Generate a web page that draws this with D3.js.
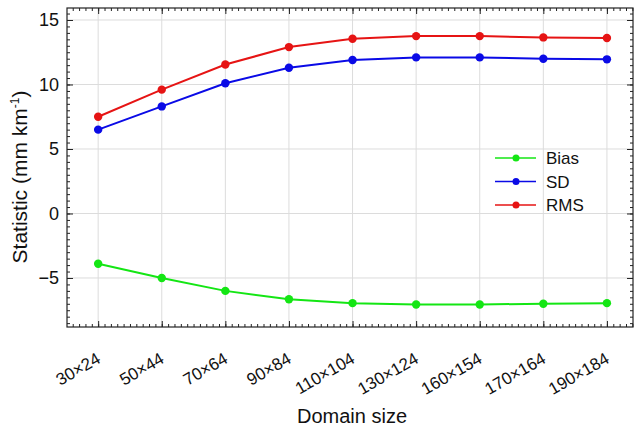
<!DOCTYPE html>
<html>
<head>
<meta charset="utf-8">
<script src="https://cdn.jsdelivr.net/npm/d3@7"></script>
<style>
  body { margin: 0; background: #fff; }
  text { font-family: "Liberation Sans", Arial, sans-serif; fill: #111; }
</style>
</head>
<body>
<svg id="chart" width="637" height="430"></svg>
<script>
var domains = ["30×24", "50×44", "70×64", "90×84", "110×104", "130×124", "160×154", "170×164", "190×184"];
var bias = [-3.9, -5.0, -6.0, -6.65, -6.95, -7.05, -7.05, -7.0, -6.95];
var sd   = [6.5, 8.3, 10.1, 11.3, 11.9, 12.1, 12.1, 12.0, 11.95];
var rms  = [7.5, 9.6, 11.55, 12.9, 13.55, 13.75, 13.75, 13.65, 13.6];
var yTicks = [-5, 0, 5, 10, 15];

var series = [
    { name: "Bias", values: bias, color: "#14e614" },
    { name: "SD", values: sd, color: "#0a0ae6" },
    { name: "RMS", values: rms, color: "#e61414" }
];

var svg = d3.select("#chart"),
    pLeft = 67, pRight = 633, pTop = 8, pBottom = 327;

var x = d3.scaleLinear().domain([0.51, 9.41]).range([pLeft, pRight]);
var y = d3.scaleLinear().domain([-8.8, 15.93]).range([pBottom, pTop]);

var g = svg.append("g");

// grid
g.selectAll(".vgrid")
    .data(domains)
    .enter().append("line")
    .attr("x1", function (d, i) { return x(i + 1); })
    .attr("x2", function (d, i) { return x(i + 1); })
    .attr("y1", pTop).attr("y2", pBottom)
    .attr("stroke", "#dcdcdc").attr("stroke-width", 1);

g.selectAll(".hgrid")
    .data(yTicks)
    .enter().append("line")
    .attr("x1", pLeft).attr("x2", pRight)
    .attr("y1", function (d) { return y(d); })
    .attr("y2", function (d) { return y(d); })
    .attr("stroke", "#dcdcdc").attr("stroke-width", 1);

// minor + major ticks, inward on all four sides
var xMinor = d3.range(6, 95).map(function (k) { return k / 10; });
var yMinor = d3.range(-17, 32).map(function (k) { return k / 2; });

function tickAxis(axisFn, scale, vals, size, pos) {
    var a = axisFn(scale).tickValues(vals).tickSize(size).tickFormat("");
    var ax = g.append("g").attr("transform", pos).call(a);
    ax.select(".domain").remove();
    ax.selectAll("line").attr("stroke", "#222").attr("stroke-width", 1);
    return ax;
}
tickAxis(d3.axisTop, x, xMinor, 3, "translate(0," + pBottom + ")");
tickAxis(d3.axisTop, x, d3.range(1, 10), 6, "translate(0," + pBottom + ")");
tickAxis(d3.axisBottom, x, xMinor, 3, "translate(0," + pTop + ")");
tickAxis(d3.axisBottom, x, d3.range(1, 10), 6, "translate(0," + pTop + ")");
tickAxis(d3.axisRight, y, yMinor, 3, "translate(" + pLeft + ",0)");
tickAxis(d3.axisRight, y, yTicks, 6, "translate(" + pLeft + ",0)");
tickAxis(d3.axisLeft, y, yMinor, 3, "translate(" + pRight + ",0)");
tickAxis(d3.axisLeft, y, yTicks, 6, "translate(" + pRight + ",0)");

// frame
g.append("rect")
    .attr("x", pLeft).attr("y", pTop)
    .attr("width", pRight - pLeft).attr("height", pBottom - pTop)
    .attr("fill", "none").attr("stroke", "#222").attr("stroke-width", 1.2);

// y labels
var yAx = g.append("g")
    .attr("transform", "translate(" + pLeft + ",0)")
    .call(d3.axisLeft(y).tickValues(yTicks).tickSize(0).tickPadding(8));
yAx.select(".domain").remove();
yAx.selectAll("text").attr("font-size", "18px").style("font-family", "Liberation Sans, Arial, sans-serif").attr("fill", "#111");

// x labels, rotated
var xAx = g.append("g")
    .attr("transform", "translate(0," + pBottom + ")")
    .call(d3.axisBottom(x).tickValues(d3.range(1, 10)).tickSize(0)
        .tickFormat(function (d) { return domains[d - 1]; }));
xAx.select(".domain").remove();
xAx.selectAll("text")
    .attr("font-size", "17px")
    .style("font-family", "Liberation Sans, Arial, sans-serif")
    .attr("fill", "#111")
    .style("text-anchor", "end")
    .attr("x", 0).attr("y", 0).attr("dy", 0)
    .attr("transform", "translate(3,35) rotate(-30)");

// axis titles
svg.append("text")
    .attr("x", 352).attr("y", 423)
    .attr("text-anchor", "middle")
    .attr("font-size", "20px")
    .text("Domain size");

var yt = svg.append("text")
    .attr("transform", "translate(27,177) rotate(-90)")
    .attr("text-anchor", "middle")
    .attr("font-size", "21px");
yt.append("tspan").text("Statistic (mm km");
yt.append("tspan").attr("font-size", "12px").attr("dy", "-8").text("-1");
yt.append("tspan").attr("dy", "8").text(")");

// series
var line = d3.line()
    .x(function (d, i) { return x(i + 1); })
    .y(function (d) { return y(d); });

series.forEach(function (s) {
    g.append("path")
        .datum(s.values)
        .attr("d", line)
        .attr("fill", "none")
        .attr("stroke", s.color)
        .attr("stroke-width", 2);
    g.selectAll(".pt-" + s.name)
        .data(s.values)
        .enter().append("circle")
        .attr("cx", function (d, i) { return x(i + 1); })
        .attr("cy", function (d) { return y(d); })
        .attr("r", 4.2)
        .attr("fill", s.color);
});

// legend
var lg = svg.append("g").attr("transform", "translate(495,158)");
series.forEach(function (s, i) {
    var row = lg.append("g").attr("transform", "translate(0," + i * 23.5 + ")");
    row.append("line").attr("x1", 0).attr("x2", 41).attr("y1", 0).attr("y2", 0)
        .attr("stroke", s.color).attr("stroke-width", 1.5);
    row.append("circle").attr("cx", 21).attr("cy", 0).attr("r", 3.5).attr("fill", s.color);
    row.append("text").attr("x", 51).attr("y", 6)
        .attr("font-size", "17px").text(s.name);
});
</script>
</body>
</html>
